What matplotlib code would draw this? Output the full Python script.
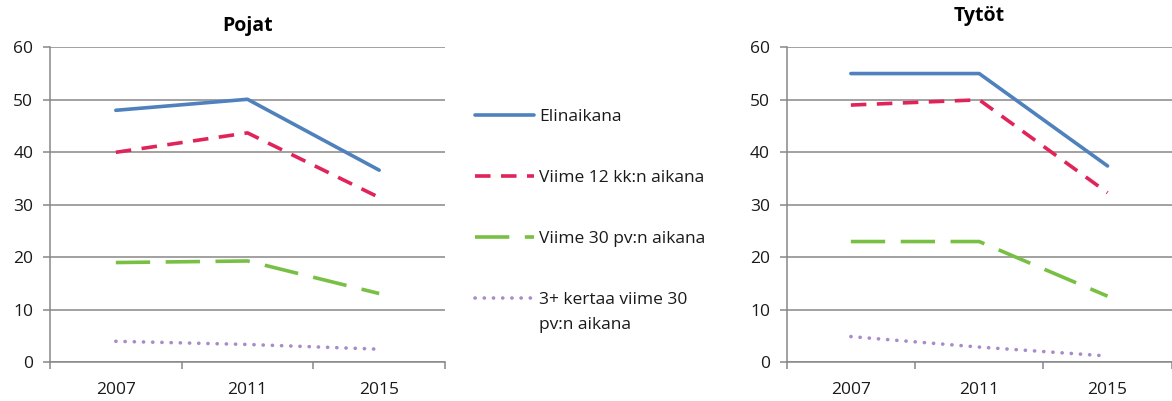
import matplotlib
matplotlib.use("Agg")
import matplotlib.pyplot as plt
from matplotlib.lines import Line2D

plt.rcParams["font.family"] = ["Open Sans", "DejaVu Sans"]

years = ["2007", "2011", "2015"]
labels = ["Elinaikana", "Viime 12 kk:n aikana", "Viime 30 pv:n aikana",
          "3+ kertaa viime 30"]
label_last_cont = "pv:n aikana"

pojat_elinaikana = [48.0, 50.1, 36.6]
pojat_12kk = [40.0, 43.7, 31.4]
pojat_30pv = [19.0, 19.3, 13.1]
pojat_3plus = [4.0, 3.4, 2.5]

tytot_elinaikana = [55.0, 55.0, 37.4]
tytot_12kk = [49.0, 50.0, 32.3]
tytot_30pv = [23.0, 23.0, 12.6]
tytot_3plus = [4.9, 2.9, 1.2]

colors = ["#4f81bd", "#e0245a", "#78c043", "#a98bc9"]
styles = [
    dict(linestyle="-"),
    dict(linestyle=(0, (4.3, 2.9))),
    dict(linestyle=(0, (9.5, 4.3))),
    dict(linestyle=(0, (0.05, 2.5)), dash_capstyle="round"),
]
LW = 2.6
GRID = "#878787"
FS = 12.5
TXT = "#1a1a1a"

fig = plt.figure(figsize=(11.72, 4.01), dpi=100)
ax1 = fig.add_axes([50 / 1172, 1 - 362.3 / 401, 395 / 1172, 315 / 401])
ax2 = fig.add_axes([786.7 / 1172, 1 - 362.3 / 401, 385 / 1172, 315 / 401])


def draw(ax, series, title, pad):
    x = range(len(years))
    for vals, c, st in zip(series, colors, styles):
        ax.plot(x, vals, color=c, lw=LW, solid_capstyle="round", **st)
    ax.set_xlim(-0.5, 2.5)
    ax.set_ylim(0, 60)
    ax.set_yticks(range(0, 61, 10))
    ax.yaxis.grid(True, color=GRID, lw=1.1)
    ax.set_axisbelow(True)
    for s in ("top", "right"):
        ax.spines[s].set_visible(False)
    for s in ("left", "bottom"):
        ax.spines[s].set_color(GRID)
        ax.spines[s].set_linewidth(1.1)
    ax.set_xticks([-0.5, 0.5, 1.5, 2.5])
    ax.set_xticklabels([])
    ax.set_xticks(list(x), minor=True)
    ax.set_xticklabels(years, minor=True)
    ax.tick_params(axis="x", which="major", length=5, color=GRID, width=1.1)
    ax.tick_params(axis="x", which="minor", length=0, pad=14, labelsize=FS, labelcolor=TXT)
    ax.tick_params(axis="y", length=5, color=GRID, width=1.1, pad=7, labelsize=FS, labelcolor=TXT)
    ax.set_title(title, fontweight="bold", fontsize=14, pad=pad)


draw(ax1, [pojat_elinaikana, pojat_12kk, pojat_30pv, pojat_3plus], "Pojat", 12)
draw(ax2, [tytot_elinaikana, tytot_12kk, tytot_30pv, tytot_3plus], "Tytöt", 19)

handles = [Line2D([], [], color=c, lw=LW, solid_capstyle="round", **st)
           for c, st in zip(colors, styles)]
leg = fig.legend(handles, labels, loc="upper left", bbox_to_anchor=(468 / 1172, 1 - 101.5 / 401),
                 frameon=False, fontsize=FS, handlelength=3.4, handletextpad=0.3,
                 labelspacing=2.6, borderaxespad=0, labelcolor=TXT)

# second line of the last legend label, placed under the first line
fig.canvas.draw()
bb = leg.get_texts()[-1].get_window_extent().transformed(fig.transFigure.inverted())
fig.text(bb.x0, bb.y0 - 25 / 401 + (bb.y1 - bb.y0) / 2, label_last_cont,
         fontsize=FS, color=TXT, va="center", ha="left")

fig.savefig("out.png", dpi=100)
